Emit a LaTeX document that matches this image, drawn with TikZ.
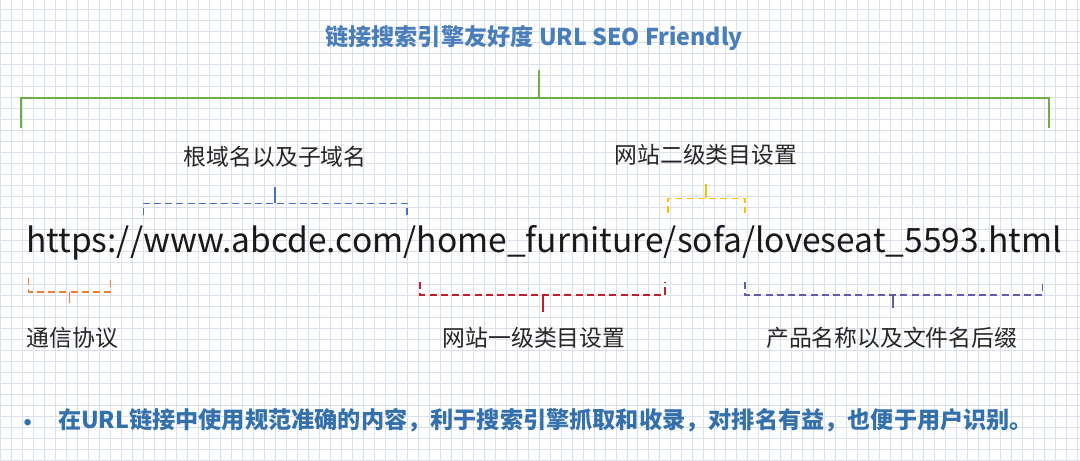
\documentclass[tikz,border=0pt]{standalone}
\usepackage{fontspec}
\setmainfont{Noto Sans CJK SC}
\usepackage{tikz}
\usetikzlibrary{positioning}
\definecolor{titleblue}{RGB}{74,126,187}
\definecolor{noteblue}{RGB}{52,112,172}
\definecolor{bracegreen}{RGB}{112,173,71}
\definecolor{domainblue}{RGB}{68,114,196}
\definecolor{protoorange}{RGB}{237,125,49}
\definecolor{levelred}{RGB}{192,30,45}
\definecolor{levelgold}{RGB}{255,192,0}
\definecolor{filepurple}{RGB}{100,90,165}
\definecolor{gridgray}{RGB}{218,224,234}
\tikzset{
	title/.style={font=\bfseries\fontsize{6.6}{8}\selectfont, text=titleblue, inner sep=0pt},
	partlabel/.style={font=\fontsize{6.5}{8}\selectfont, text=black!85, inner sep=0pt},
	urltext/.style={font=\fontsize{9.55}{11}\selectfont, text=black!90, inner sep=0pt},
	note/.style={font=\bfseries\fontsize{6.6}{8}\selectfont, text=noteblue, inner sep=0pt},
	topbrace/.style={draw=bracegreen, line width=0.55pt},
	dashbrace/.style={dash pattern=on 2pt off 1.2pt, line width=0.42pt},
	bracetick/.style={line width=0.5pt},
}
\begin{document}
\begin{tikzpicture}
		% Background grid
		\fill [white] (0, 0) rectangle (10.8, 4.6);
		\draw [gridgray, line width=0.25pt, step=0.11] (0, 0) grid (10.8, 4.6);
		\useasboundingbox (0, 0) rectangle (10.8, 4.6);
		% Title and green brace
		\node [title] (title) at (5.34, 4.22) {链接搜索引擎友好度 URL SEO Friendly};
		\coordinate (gtop) at (5.39, 3.90);
		\coordinate (gmid) at (5.39, 3.62);
		\coordinate (gl) at (0.21, 3.62);
		\coordinate (gr) at (10.49, 3.62);
		\draw [topbrace] (gl |- 0, 3.32) -- (gl) -- (gr) -- (gr |- 0, 3.32);
		\draw [topbrace] (gmid) -- (gtop);
		% The URL
		\node [urltext] (url) at (5.44, 2.17) {https://www.abcde.com/home\_furniture/sofa/loveseat\_5593.html};
		% Root domain and subdomain
		\node [partlabel] (domain) at (2.75, 3.03) {根域名以及子域名};
		\coordinate (dl) at (1.43, 2.57);
		\coordinate (dr) at (4.07, 2.57);
		\coordinate (dm) at (2.75, 2.57);
		\draw [dashbrace, domainblue] (1.43, 2.45) -- (dl) -- (dr) -- (4.07, 2.45);
		\draw [bracetick, domainblue] (dm) -- (2.75, 2.73);
		% Second level category
		\node [partlabel] (level2) at (7.06, 3.05) {网站二级类目设置};
		\coordinate (yl) at (6.68, 2.62);
		\coordinate (yr) at (7.45, 2.62);
		\coordinate (ym) at (7.06, 2.62);
		\draw [dashbrace, levelgold] (6.68, 2.47) -- (yl) -- (yr) -- (7.45, 2.47);
		\draw [bracetick, levelgold] (ym) -- (7.06, 2.76);
		% Protocol
		\node [partlabel] (proto) at (0.72, 1.22) {通信协议};
		\coordinate (ol) at (0.28, 1.68);
		\coordinate (or) at (1.10, 1.68);
		\coordinate (om) at (0.69, 1.68);
		\draw [dashbrace, protoorange] (0.28, 1.82) -- (ol) -- (or) -- (1.10, 1.82);
		\draw [bracetick, protoorange] (om) -- (0.69, 1.57);
		% First level category
		\node [partlabel] (level1) at (5.34, 1.22) {网站一级类目设置};
		\coordinate (rl) at (4.20, 1.65);
		\coordinate (rr) at (6.65, 1.65);
		\coordinate (rm) at (5.43, 1.65);
		\draw [dashbrace, levelred] (4.20, 1.78) -- (rl) -- (rr) -- (6.65, 1.78);
		\draw [bracetick, levelred] (rm) -- (5.43, 1.48);
		% Product name and file suffix
		\node [partlabel] (product) at (8.92, 1.22) {产品名称以及文件名后缀};
		\coordinate (pl) at (7.45, 1.65);
		\coordinate (pr) at (10.43, 1.65);
		\coordinate (pm) at (8.93, 1.65);
		\draw [dashbrace, filepurple] (7.45, 1.78) -- (pl) -- (pr) -- (10.43, 1.78);
		\draw [bracetick, filepurple] (pm) -- (8.93, 1.52);
		% Bullet note
		\node [note] (dot) at (0.28, 0.35) {•};
		\node [note, anchor=west] (notetext) at (0.57, 0.40) {在URL链接中使用规范准确的内容，利于搜索引擎抓取和收录，对排名有益，也便于用户识别。};
		\end{tikzpicture}
\end{document}
